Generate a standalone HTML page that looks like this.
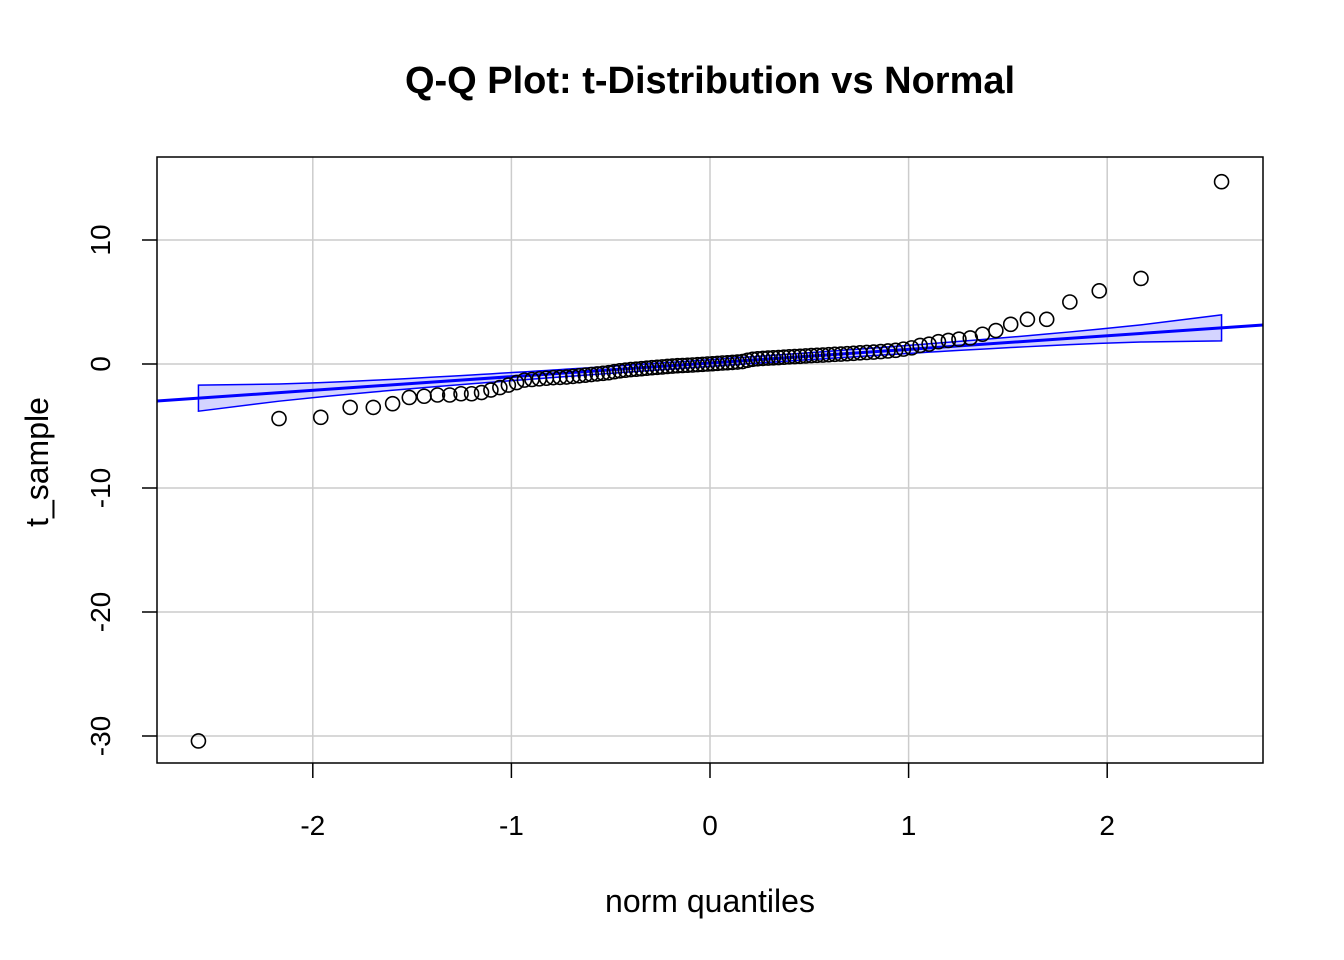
<!DOCTYPE html>
<html><head><meta charset="utf-8"><style>
html,body{margin:0;padding:0;background:#fff;}
svg{display:block;font-family:"Liberation Sans",Arial,sans-serif;}
</style></head><body>
<svg id="c" width="1344" height="960">
<text x="710" y="93" text-anchor="middle" font-size="38" font-weight="bold">Q-Q Plot: t-Distribution vs Normal</text>
<text x="710" y="912" text-anchor="middle" font-size="32">norm quantiles</text>
<text transform="translate(48,462) rotate(-90)" text-anchor="middle" font-size="32">t_sample</text>
<g id="grid"></g><g id="band"></g><g id="pts"></g>
<rect x="157" y="157" width="1106" height="606" fill="none" stroke="#000" stroke-width="1.5"/>
<g id="axes"></g>
</svg>
<script>
const sampleValues=[-30.4,-4.4,-4.3,-3.5,-3.5,-3.2,-2.7,-2.6,-2.5,-2.5,-2.4,-2.4,-2.3,-2.1,-1.9,-1.7,-1.5,
-1.3,-1.25,-1.2,-1.15,-1.1,-1.08,-1.05,-1.0,-0.95,-0.9,-0.85,-0.8,-0.75,-0.7,-0.62,-0.55,-0.5,-0.45,-0.42,-0.38,
-0.34,-0.3,-0.27,-0.24,-0.2,-0.17,-0.14,-0.12,-0.1,-0.08,-0.05,-0.03,0.0,0.02,0.05,0.08,0.1,0.13,0.16,0.2,
0.3,0.38,0.42,0.45,0.48,0.5,0.52,0.55,0.58,0.6,0.62,0.65,0.68,0.7,0.72,0.75,0.78,0.8,0.83,0.86,0.9,0.93,0.96,1.0,1.05,1.1,
1.2,1.3,1.5,1.6,1.8,1.9,2.0,2.1,2.4,2.7,3.2,3.6,3.6,5.0,5.9,6.9,14.7];
const xTicks=[-2,-1,0,1,2];
const yTicks=[10,0,-10,-20,-30];
const lineSlope=1.1, lineIntercept=0.08;
const NS='http://www.w3.org/2000/svg';
const X=v=>710+v*198.6, Y=v=>364-v*12.4;
function el(t,a,p){const e=document.createElementNS(NS,t);for(const k in a)e.setAttribute(k,a[k]);document.getElementById(p).appendChild(e);return e;}
function qnorm(p){const a=[-39.6968302866538,220.946098424521,-275.928510446969,138.357751867269,-30.6647980661472,2.50662827745924],
b=[-54.4760987982241,161.585836858041,-155.698979859887,66.8013118877197,-13.2806815528857],
c=[-0.00778489400243029,-0.322396458041136,-2.40075827716184,-2.54973253934373,4.37466414146497,2.93816398269878],
d=[0.00778469570904146,0.32246712907004,2.445134137143,3.75440866190742];
let q,r;if(p<0.02425){q=Math.sqrt(-2*Math.log(p));return(((((c[0]*q+c[1])*q+c[2])*q+c[3])*q+c[4])*q+c[5])/((((d[0]*q+d[1])*q+d[2])*q+d[3])*q+1);}
if(p>1-0.02425){q=Math.sqrt(-2*Math.log(1-p));return-(((((c[0]*q+c[1])*q+c[2])*q+c[3])*q+c[4])*q+c[5])/((((d[0]*q+d[1])*q+d[2])*q+d[3])*q+1);}
q=p-0.5;r=q*q;return(((((a[0]*r+a[1])*r+a[2])*r+a[3])*r+a[4])*r+a[5])*q/(((((b[0]*r+b[1])*r+b[2])*r+b[3])*r+b[4])*r+1);}
xTicks.forEach(t=>{
 let g=el('line',{x1:X(t),x2:X(t),y1:157,y2:763,stroke:'#cccccc','stroke-width':1.5},'grid');
 
 let k=el('line',{x1:X(t),x2:X(t),y1:763,y2:778,stroke:'#000','stroke-width':1.5},'axes');
 
 let l=el('text',{x:X(t),y:835,'text-anchor':'middle','font-size':28},'axes');l.textContent=t;
 
});
yTicks.forEach(t=>{
 let g=el('line',{x1:157,x2:1263,y1:Y(t),y2:Y(t),stroke:'#cccccc','stroke-width':1.5},'grid');
 
 let k=el('line',{x1:142,x2:157,y1:Y(t),y2:Y(t),stroke:'#000','stroke-width':1.5},'axes');
 
 let l=el('text',{transform:`translate(110,${Y(t)}) rotate(-90)`,'text-anchor':'middle','font-size':28},'axes');l.textContent=t;
 
});
const ys=sampleValues.slice().sort((a,b)=>a-b), n=ys.length;
const zs=ys.map((_,i)=>qnorm((i+0.5)/n));
function erf(x){const t=1/(1+0.3275911*Math.abs(x));const y=1-(((((1.061405429*t-1.453152027)*t)+1.421413741)*t-0.284496736)*t+0.254829592)*t*Math.exp(-x*x);return x>=0?y:-y;}
const up=[],lo=[];
zs.forEach(z=>{const P=0.5*(1+erf(z/Math.SQRT2));const dn=Math.exp(-z*z/2)/Math.sqrt(2*Math.PI);
 const se=lineSlope/dn*Math.sqrt(P*(1-P)/n);const f=lineIntercept+lineSlope*z;
 up.push([X(z),Y(f+1.96*se)]);lo.push([X(z),Y(f-1.96*se)]);});
const poly=up.concat(lo.reverse()).map(p=>p.join(',')).join(' ');
let bd=el('polygon',{points:poly,fill:'rgba(0,0,255,0.17)',stroke:'#0000ff','stroke-width':1.5},'band');

let fl=el('line',{x1:157,y1:Y(lineIntercept+lineSlope*(-2.785)),x2:1263,y2:Y(lineIntercept+lineSlope*2.785),stroke:'#0000ff','stroke-width':3},'band');

ys.forEach((v,i)=>{const c=el('circle',{cx:X(zs[i]),cy:Y(v),r:7,fill:'none',stroke:'#000','stroke-width':1.6},'pts');
 });
</script>
</body></html>
